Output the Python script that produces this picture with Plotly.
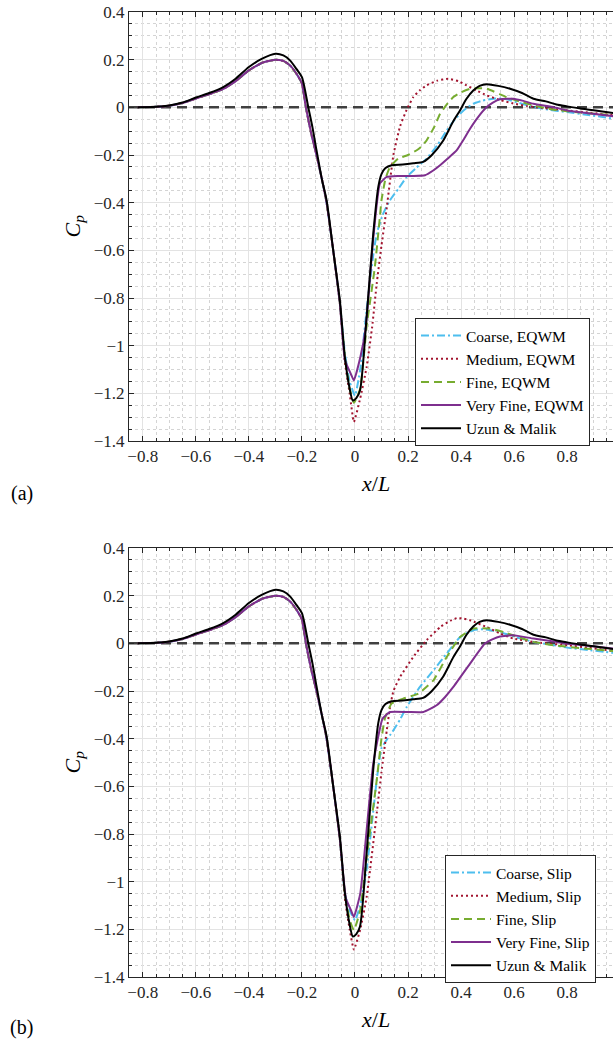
import plotly.graph_objects as go

W, H = 613, 1044

COLORS = {
    "coarse": "#4DBEEE",
    "medium": "#A2142F",
    "fine": "#77AC30",
    "vfine": "#7E2F8E",
    "ref": "#000000",
    "axis": "#262626",
    "grid": "#E3E3E3",
    "minor": "#D4D4D4",
    "zero": "#404040",
}

# shared upstream part of the simulated curves (bump + descent)
X_UP = [-0.82, -0.75, -0.70, -0.65, -0.60, -0.55, -0.50, -0.45, -0.40, -0.35, -0.30,
        -0.27, -0.245, -0.22, -0.20, -0.185, -0.165, -0.145, -0.125, -0.107, -0.082, -0.057]
Y_UP = [0.0, 0.002, 0.007, 0.018, 0.037, 0.055, 0.075, 0.11, 0.155, 0.187, 0.2,
        0.195, 0.176, 0.14, 0.1, 0.0, -0.11, -0.2, -0.30, -0.40, -0.60, -0.82]

# Uzun & Malik reference
X_REF = [-0.82, -0.75, -0.70, -0.65, -0.60, -0.55, -0.50, -0.45, -0.40, -0.35, -0.30,
         -0.27, -0.245, -0.22, -0.20, -0.176, -0.16, -0.145, -0.125, -0.107, -0.082,
         -0.057, -0.038, -0.02, -0.008, 0.005, 0.019, 0.044, 0.069, 0.088, 0.10, 0.115,
         0.138, 0.18, 0.22, 0.257, 0.29, 0.333, 0.37, 0.396, 0.42, 0.446, 0.47, 0.497,
         0.54, 0.585, 0.63, 0.673, 0.72, 0.76, 0.80, 0.85, 0.90, 0.974]
Y_REF = [0.0, 0.002, 0.008, 0.02, 0.041, 0.06, 0.083, 0.12, 0.169, 0.204, 0.225,
         0.218, 0.197, 0.16, 0.127, 0.0, -0.085, -0.18, -0.30, -0.39, -0.60,
         -0.81, -1.048, -1.18, -1.23, -1.22, -1.188, -0.88, -0.53, -0.334, -0.28, -0.255,
         -0.243, -0.24, -0.235, -0.229, -0.2, -0.139, -0.06, -0.013, 0.035, 0.071, 0.09, 0.097,
         0.09, 0.078, 0.06, 0.036, 0.025, 0.012, 0.004, -0.005, -0.012, -0.024]

# (a) EQWM, downstream parts
XA_COARSE = [-0.038, -0.02, 0.0, 0.02, 0.044, 0.069, 0.082, 0.105, 0.132, 0.165, 0.195, 0.23,
             0.27, 0.31, 0.346, 0.37, 0.396, 0.42, 0.446, 0.48, 0.522, 0.55, 0.572, 0.62,
             0.673, 0.73, 0.80, 0.88, 0.974]
YA_COARSE = [-1.03, -1.15, -1.21, -1.10, -0.85, -0.62, -0.53, -0.45, -0.39, -0.34, -0.292, -0.255,
             -0.215, -0.16, -0.097, -0.06, -0.027, -0.004, 0.015, 0.028, 0.036, 0.037, 0.034, 0.018,
             0.001, -0.01, -0.02, -0.032, -0.047]
XA_MEDIUM = [-0.038, -0.02, -0.004, 0.02, 0.044, 0.065, 0.082, 0.10, 0.12, 0.145, 0.17, 0.195,
             0.22, 0.245, 0.27, 0.31, 0.352, 0.39, 0.421, 0.46, 0.497, 0.55, 0.597, 0.65, 0.70,
             0.80, 0.88, 0.974]
YA_MEDIUM = [-1.07, -1.2, -1.32, -1.22, -1.09, -0.92, -0.74, -0.58, -0.42, -0.20, -0.08, -0.01,
             0.043, 0.072, 0.092, 0.112, 0.12, 0.11, 0.092, 0.07, 0.05, 0.03, 0.016, 0.005, -0.002,
             -0.013, -0.022, -0.033]
XA_FINE = [-0.038, -0.02, -0.004, 0.02, 0.044, 0.075, 0.094, 0.10, 0.115, 0.132, 0.163, 0.20,
           0.233, 0.25, 0.27, 0.30, 0.321, 0.345, 0.371, 0.40, 0.434, 0.47, 0.497, 0.572, 0.62,
           0.673, 0.75, 0.85, 0.974]
YA_FINE = [-1.05, -1.18, -1.24, -1.18, -0.92, -0.67, -0.46, -0.39, -0.30, -0.25, -0.215, -0.20,
           -0.18, -0.165, -0.139, -0.08, -0.027, 0.01, 0.043, 0.063, 0.078, 0.08, 0.078, 0.043, 0.025,
           0.008, -0.01, -0.022, -0.033]
XA_VFINE = [-0.038, -0.015, -0.004, 0.02, 0.04, 0.069, 0.094, 0.12, 0.16, 0.22, 0.264, 0.295,
            0.321, 0.35, 0.384, 0.41, 0.434, 0.465, 0.497, 0.52, 0.547, 0.597, 0.635, 0.673, 0.75,
            0.80, 0.88, 0.974]
YA_VFINE = [-1.06, -1.12, -1.146, -1.05, -0.93, -0.55, -0.32, -0.292, -0.288, -0.288, -0.285, -0.265,
            -0.243, -0.215, -0.18, -0.135, -0.09, -0.04, 0.001, 0.02, 0.034, 0.036, 0.027, 0.015, 0.0,
            -0.013, -0.025, -0.037]

# (b) Slip, downstream parts
XB_COARSE = [-0.038, -0.02, 0.0, 0.02, 0.044, 0.082, 0.10, 0.145, 0.17, 0.195, 0.245, 0.296,
             0.346, 0.396, 0.446, 0.484, 0.547, 0.60, 0.673, 0.74, 0.80, 0.88, 0.974]
YB_COARSE = [-1.05, -1.12, -1.162, -1.1, -0.95, -0.575, -0.44, -0.365, -0.32, -0.267, -0.183, -0.113,
             -0.043, 0.026, 0.055, 0.059, 0.047, 0.028, 0.006, -0.006, -0.018, -0.028, -0.04]
XB_MEDIUM = [-0.038, -0.02, -0.004, 0.02, 0.044, 0.082, 0.10, 0.12, 0.132, 0.145, 0.17, 0.22,
             0.27, 0.321, 0.36, 0.384, 0.41, 0.434, 0.497, 0.55, 0.597, 0.70, 0.80, 0.88, 0.974]
YB_MEDIUM = [-1.07, -1.2, -1.285, -1.2, -1.065, -0.715, -0.54, -0.365, -0.27, -0.2, -0.141, -0.057,
             0.013, 0.068, 0.095, 0.106, 0.104, 0.097, 0.068, 0.04, 0.02, 0.002, -0.008, -0.018, -0.032]
XB_FINE = [-0.038, -0.02, -0.004, 0.02, 0.044, 0.082, 0.10, 0.113, 0.138, 0.182, 0.239, 0.296,
           0.346, 0.396, 0.446, 0.509, 0.56, 0.62, 0.673, 0.75, 0.85, 0.974]
YB_FINE = [-1.05, -1.16, -1.204, -1.12, -0.9, -0.575, -0.40, -0.315, -0.253, -0.232, -0.211, -0.155,
           -0.057, 0.026, 0.062, 0.062, 0.047, 0.025, 0.006, -0.008, -0.02, -0.032]
XB_VFINE = [-0.034, -0.015, -0.004, 0.02, 0.031, 0.069, 0.104, 0.132, 0.2, 0.258, 0.308, 0.34,
            0.371, 0.434, 0.49, 0.52, 0.547, 0.597, 0.673, 0.75, 0.80, 0.88, 0.974]
YB_VFINE = [-1.071, -1.12, -1.148, -1.05, -0.939, -0.505, -0.316, -0.288, -0.288, -0.288, -0.26, -0.225,
            -0.183, -0.085, -0.001, 0.018, 0.029, 0.034, 0.02, 0.008, -0.001, -0.01, -0.022]

X_RANGE = [-0.852, 0.973]
Y_RANGE = [-1.4, 0.4]
ZERO_X = [-0.852, 1.0]
ZERO_Y = [0, 0]

LEFT_PX = 129
PANELS = [
    # (suffix, top px, bottom px, legend left px, legend top px, tag, tag y px, case)
    ("", 12, 441, 415, 318, "(a)", 493, "EQWM"),
    ("2", 548, 977, 445, 855, "(b)", 1027, "Slip"),
]

FONT = "Liberation Serif"

fig = go.Figure()

for suffix, top, bottom, lg_x, lg_y, tag, tag_y, case in PANELS:
    xa = "x" + suffix
    ya = "y" + suffix
    legend = "legend" + suffix
    if suffix == "":
        data = [
            ("Coarse, " + case, XA_COARSE, YA_COARSE, COLORS["coarse"], "8px,3px,2px,3px"),
            ("Medium, " + case, XA_MEDIUM, YA_MEDIUM, COLORS["medium"], "2px,3px"),
            ("Fine, " + case, XA_FINE, YA_FINE, COLORS["fine"], "8px,5px"),
            ("Very Fine, " + case, XA_VFINE, YA_VFINE, COLORS["vfine"], "solid"),
        ]
    else:
        data = [
            ("Coarse, " + case, XB_COARSE, YB_COARSE, COLORS["coarse"], "8px,3px,2px,3px"),
            ("Medium, " + case, XB_MEDIUM, YB_MEDIUM, COLORS["medium"], "2px,3px"),
            ("Fine, " + case, XB_FINE, YB_FINE, COLORS["fine"], "8px,5px"),
            ("Very Fine, " + case, XB_VFINE, YB_VFINE, COLORS["vfine"], "solid"),
        ]

    # dashed zero reference line
    fig.add_trace(go.Scatter(
        x=ZERO_X, y=ZERO_Y, mode="lines", showlegend=False, hoverinfo="skip",
        line=dict(color=COLORS["zero"], width=2.5, dash="10px,6px"),
        xaxis=xa, yaxis=ya,
    ))
    for name, xs, ys, color, dash in data:
        fig.add_trace(go.Scatter(
            x=X_UP + xs, y=Y_UP + ys, mode="lines", name=name,
            line=dict(color=color, width=2, dash=dash, shape="spline", smoothing=0.4),
            xaxis=xa, yaxis=ya, legend=legend,
        ))
    fig.add_trace(go.Scatter(
        x=X_REF, y=Y_REF, mode="lines", name="Uzun & Malik",
        line=dict(color=COLORS["ref"], width=2, shape="spline", smoothing=0.7),
        xaxis=xa, yaxis=ya, legend=legend,
    ))

    dom_y = [1 - bottom / H, 1 - top / H]
    axis_common = dict(
        automargin=False,
        showline=True, linecolor=COLORS["axis"], linewidth=1,
        ticks="inside", ticklen=5, tickcolor=COLORS["axis"],
        showgrid=True, gridcolor=COLORS["grid"], gridwidth=1, zeroline=False,
        tickfont=dict(family=FONT, size=17, color=COLORS["axis"]),
        minor=dict(dtick=0.05, ticks="inside", ticklen=3, tickcolor=COLORS["axis"],
                   showgrid=True, gridcolor=COLORS["minor"], griddash="dot", gridwidth=1),
    )
    fig.layout["xaxis" + suffix] = dict(
        domain=[LEFT_PX / W, 1.0], range=X_RANGE, anchor=ya, dtick=0.2, tick0=0,
        mirror="allticks", **axis_common,
    )
    fig.layout["yaxis" + suffix] = dict(
        domain=dom_y, range=Y_RANGE, anchor=xa, dtick=0.2, tick0=0,
        mirror=False, **axis_common,
    )
    fig.layout[legend] = dict(
        x=lg_x / W, y=1 - lg_y / H, xanchor="left", yanchor="top",
        bgcolor="white", bordercolor=COLORS["axis"], borderwidth=1,
        font=dict(family=FONT, size=15.5, color="#000000"),
        tracegroupgap=0, itemwidth=40,
    )

    mid_y = 1 - (top + bottom) / 2 / H
    fig.add_annotation(text="<i>C<sub>p</sub></i>", xref="paper", yref="paper",
                       x=73 / W, y=mid_y, textangle=-90, showarrow=False,
                       xanchor="center", yanchor="middle",
                       font=dict(family=FONT, size=22, color="#000000"))
    fig.add_annotation(text="<i>x</i>/<i>L</i>", xref="paper", yref="paper",
                       x=375 / W, y=1 - (bottom + 42) / H, showarrow=False,
                       xanchor="center", yanchor="middle",
                       font=dict(family=FONT, size=22, color="#000000"))
    fig.add_annotation(text=tag, xref="paper", yref="paper",
                       x=22 / W, y=1 - tag_y / H, showarrow=False,
                       xanchor="center", yanchor="middle",
                       font=dict(family=FONT, size=20, color="#000000"))

fig.update_layout(
    template="none",
    width=W, height=H,
    margin=dict(l=0, r=0, t=0, b=0, autoexpand=False),
    plot_bgcolor="white", paper_bgcolor="white",
    font=dict(family=FONT, color=COLORS["axis"]),
)

fig.write_html(
    "out.html",
    config={"displayModeBar": False},
    post_script="document.body.style.margin='0';document.body.style.overflow='hidden';",
)
